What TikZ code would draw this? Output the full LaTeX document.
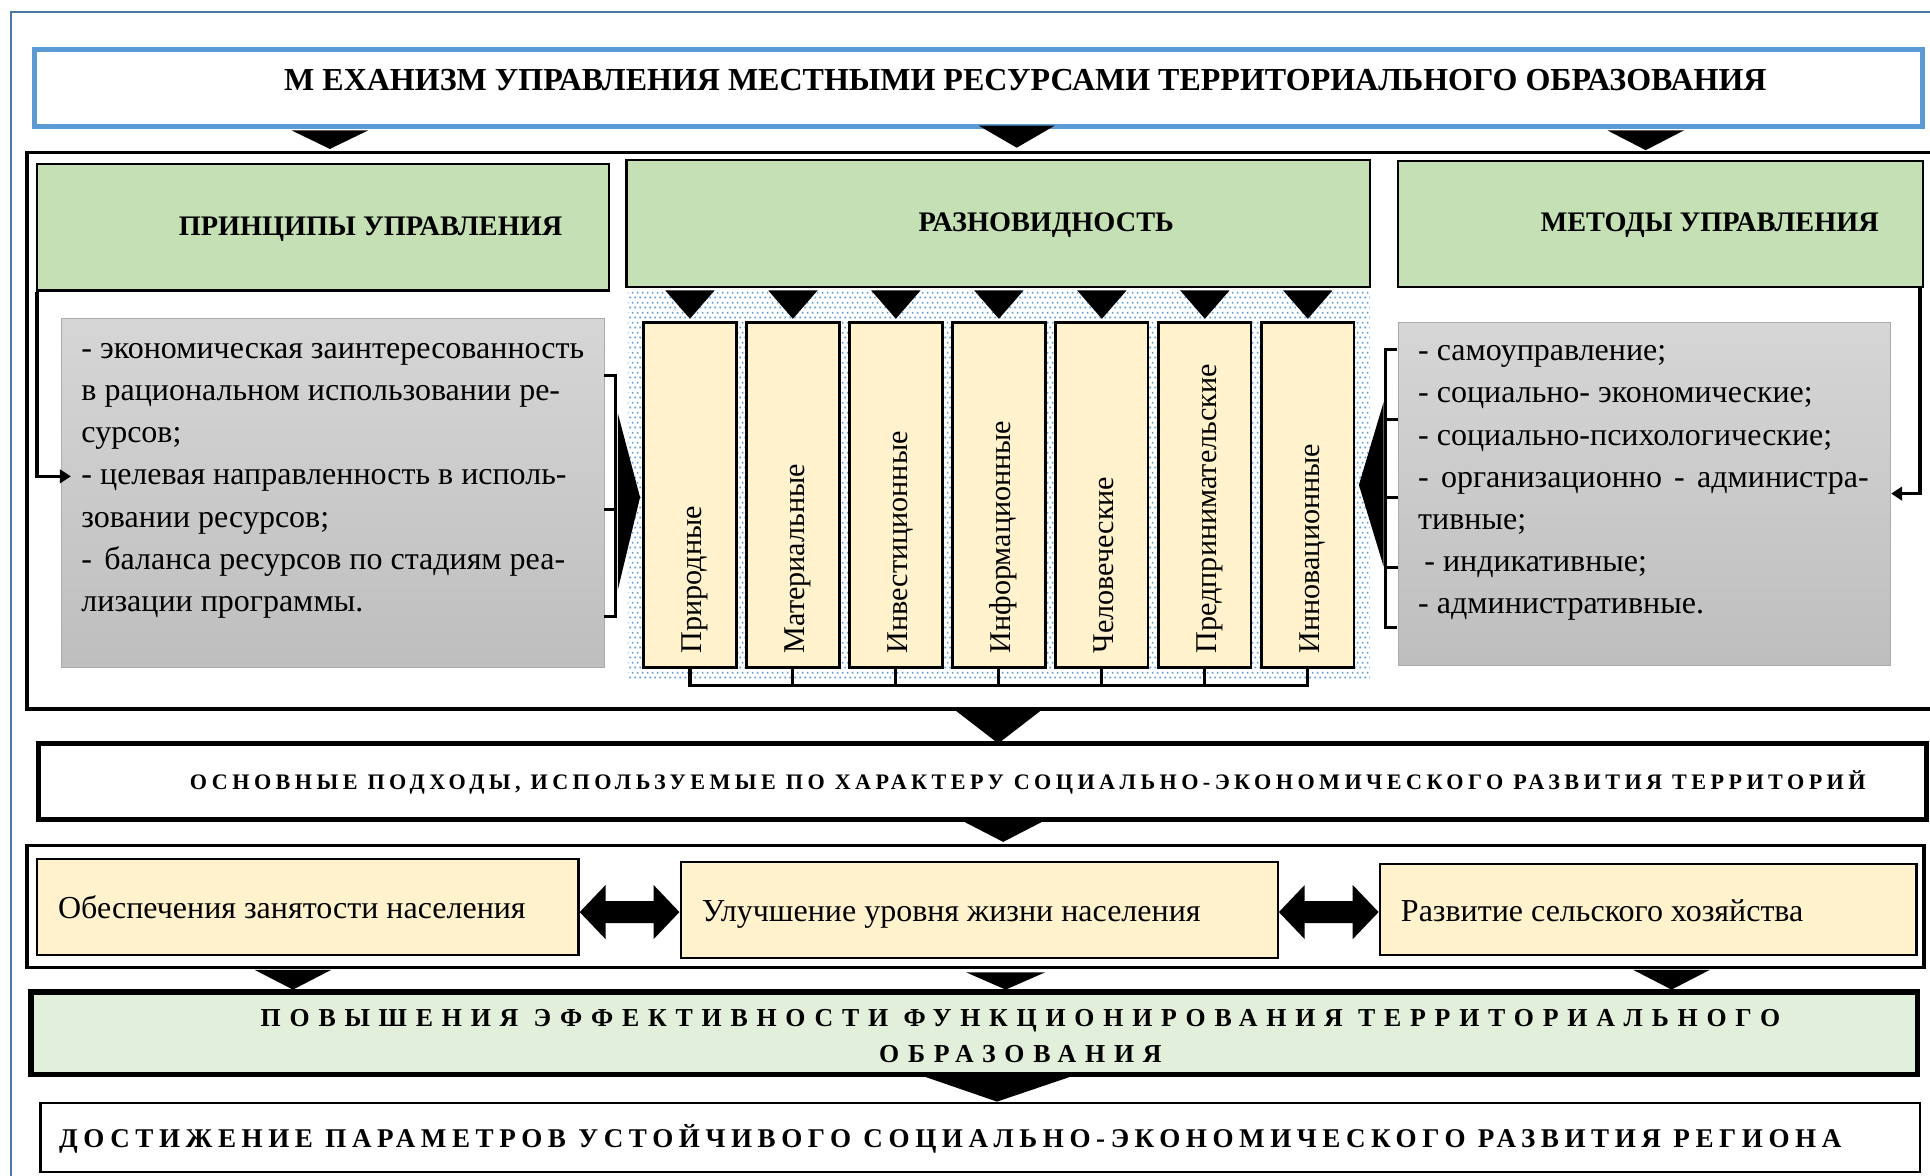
\documentclass[tikz,border=0pt]{standalone}
\usepackage{fontspec}
\setmainfont{Liberation Serif}
\newfontfamily\lsA[LetterSpace=20]{Liberation Serif}
\newfontfamily\lsB[LetterSpace=34]{Liberation Serif}
\newfontfamily\lsC[LetterSpace=20.6]{Liberation Serif}
\usetikzlibrary{patterns,arrows.meta,calc}
\pgfdeclarepatternformonly{bluedots}{\pgfpointorigin}{\pgfpoint{4.3pt}{8.4pt}}{\pgfpoint{4.3pt}{8.4pt}}{%
  \pgfpathrectangle{\pgfpoint{0.4pt}{1.4pt}}{\pgfpoint{1.5pt}{1.5pt}}%
  \pgfpathrectangle{\pgfpoint{2.55pt}{5.6pt}}{\pgfpoint{1.5pt}{1.5pt}}%
  \pgfusepath{fill}}
\definecolor{hdrgreen}{HTML}{C5E0B4}
\definecolor{lightgreen}{HTML}{E2EFDA}
\definecolor{cream}{HTML}{FFF2CC}
\definecolor{titleblue}{HTML}{5B9BD5}
\definecolor{frameblue}{HTML}{4A77A8}
\definecolor{grayA}{HTML}{D6D6D6}
\definecolor{grayB}{HTML}{BEBEBE}
\definecolor{grayC}{HTML}{ABABAB}
\definecolor{dotblue}{HTML}{5B9BD5}
\newcommand\mybox[7]{\node[#2, minimum width={(#5)-(#3)}, minimum height={(#6)-(#4)}, inner sep=0pt] (#1) at ({((#3)+(#5))/2},{((#4)+(#6))/2}) {#7};}
\newcommand\dtri[4]{\fill[black] ({#1-#4},#2) -- ({#1+#4},#2) -- (#1,#3) -- cycle;}
\tikzset{
  titlebox/.style={draw=titleblue, line width=4pt, fill=white},
  framebox/.style={draw=black, line width=3pt},
  hdrbox/.style={draw=black, line width=1.8pt, fill=hdrgreen},
  graybox/.style={top color=grayA, bottom color=grayB, draw=grayC, line width=0.8pt},
  vbox/.style={draw=black, line width=2.4pt, fill=cream},
  ybox/.style={draw=black, line width=1.8pt, fill=cream},
  thickbox/.style={draw=black, line width=4pt, fill=white},
  effbox/.style={draw=black, line width=4.5pt, fill=lightgreen},
  finalbox/.style={draw=black, line width=2pt, fill=white},
  dotarea/.style={pattern=bluedots, pattern color=dotblue},
  body/.style={font=\fontsize{26}{30}\selectfont, inner sep=0pt},
  vtext/.style={font=\fontsize{24.5}{28}\selectfont, inner sep=0pt},
  hdrtext/.style={font=\fontsize{23}{26}\selectfont\bfseries, inner sep=0pt},
  conn/.style={line width=2.6pt, draw=black},
}
\begin{document}
\begin{tikzpicture}[x=1pt,y=-1pt]
\useasboundingbox (0,0) rectangle (1568,955);
% outer thin blue frame
\draw[frameblue, line width=1.5pt] (9,970) -- (9,10) -- (1580,10);

% title
\mybox{title}{titlebox}{28}{40}{1562}{103}{}
\node[font=\fontsize{26}{30}\selectfont\bfseries, inner sep=0pt] (titletext) at (833,65) {М ЕХАНИЗМ УПРАВЛЕНИЯ МЕСТНЫМИ РЕСУРСАМИ ТЕРРИТОРИАЛЬНОГО ОБРАЗОВАНИЯ};
\dtri{268}{106}{121}{31}
\dtri{826}{102}{120}{31}
\dtri{1337}{106}{122}{31}

% frame 1
\mybox{frameA}{framebox}{22}{124}{1575}{576}{}
\mybox{hprin}{hdrbox}{30}{133}{495}{236}{}
\node[hdrtext] (hprintext) at (301,186) {ПРИНЦИПЫ УПРАВЛЕНИЯ};
\mybox{hraz}{hdrbox}{509}{130}{1113}{233}{}
\node[hdrtext] (hraztext) at (850,183) {РАЗНОВИДНОСТЬ};
\mybox{hmet}{hdrbox}{1136}{131}{1562}{233}{}
\node[hdrtext] (hmettext) at (1389,183) {МЕТОДЫ УПРАВЛЕНИЯ};

% dotted area
\mybox{dots}{dotarea}{510}{235}{1113}{551}{}

% gray boxes
\mybox{lgray}{graybox}{50}{259}{491}{542}{}
\mybox{rgray}{graybox}{1136}{262}{1536}{541}{}

\foreach \t [count=\i] in {{- экономическая заинтересованность},{в рациональном использовании ре-},{сурсов;},{- целевая направленность в исполь-},{зовании ресурсов;},{-\hspace{10pt}баланса ресурсов по стадиям реа-},{лизации программы.}}
  \node[body, anchor=base west] (lt\i) at (66,{291+(\i-1)*34.3}) {\t};

\foreach \t [count=\i] in {{- самоуправление;},{- социально- экономические;},{- социально-психологические;},{\makebox[366pt][s]{- организационно - администра-}},{тивные;},{\hspace{5pt}- индикативные;},{- административные.}}
  \node[body, anchor=base west] (rt\i) at (1152,{293+(\i-1)*34.3}) {\t};

% connectors from headers into gray boxes
\coordinate (la) at (31,387);
\coordinate (ra) at (1559,401);
\draw[conn, -{Triangle[length=9pt,width=11pt]}] (hprin.south west) ++(1,0) |- ($(lgray.west |- la)+(8,0)$);
\draw[conn, -{Triangle[length=9pt,width=11pt]}] (hmet.south east) ++(-3,0) |- (rgray.east |- ra);

% left bracket and spike
\draw[conn, line width=2.4pt] (491,305) -- (500,305) -- (500,501) -- (491,501);
\draw[conn, line width=2.4pt] (491,414) -- (500,414);
\fill[black] (502,336) -- (520,404) -- (502,479) -- cycle;
% right bracket and spike
\draw[conn, line width=2.4pt] (1135,284) -- (1126,284) -- (1126,510) -- (1135,510);
\foreach \yy in {341,404,461} \draw[conn, line width=2.4pt] (1126,\yy) -- (1136,\yy);
\fill[black] (1124,327) -- (1104,394) -- (1124,460) -- cycle;

% vertical boxes
\foreach \t [count=\i] in {Природные,Материальные,Инвестиционные,Информационные,Человеческие,Предпринимательские,Инновационные}{
  \pgfmathsetmacro\cx{560.5+(\i-1)*83.67}
  \mybox{v\i}{vbox}{\cx-37.5}{262}{\cx+37.5}{542}{}
  \node[vtext, rotate=90, anchor=base west] (vt\i) at (\cx+9.5,531) {\t};
  \dtri{\cx}{236}{259}{20}
  \draw[conn] (v\i.south) -- ++(0,14);
}
\draw[conn] ($(v1.south)+(-1.3,14)$) -- ($(v7.south)+(1.3,14)$);

% arrow to approaches
\dtri{811}{577}{604}{35}
\mybox{appr}{thickbox}{31}{604}{1565}{666}{}
\node[font=\fontsize{18}{20}\selectfont\bfseries\lsA, inner sep=0pt] (apprtext) at (835,636) {ОСНОВНЫЕ ПОДХОДЫ, ИСПОЛЬЗУЕМЫЕ ПО ХАРАКТЕРУ СОЦИАЛЬНО-ЭКОНОМИЧЕСКОГО РАЗВИТИЯ ТЕРРИТОРИЙ};
\dtri{815}{668}{684}{31}

% frame 2
\mybox{frameB}{framebox}{22}{687}{1563}{786}{}
\mybox{y1}{ybox}{30}{698}{470}{776}{}
\mybox{y2}{ybox}{553}{700}{1038}{778}{}
\mybox{y3}{ybox}{1121}{702}{1557}{776}{}
\node[body, anchor=base west] (y1t) at (47,746) {Обеспечения занятости населения};
\node[body, anchor=base west] (y2t) at (570,749) {Улучшение уровня жизни населения};
\node[body, anchor=base west] (y3t) at (1138,749) {Развитие сельского хозяйства};
% double arrows
\foreach \a/\b in {470/553,1038/1121}{
  \fill[black] (\a+1,741) -- (\a+22,719) -- (\a+22,732) -- (\b-22,732) -- (\b-22,719) -- (\b-1,741) -- (\b-22,763) -- (\b-22,750) -- (\a+22,750) -- (\a+22,763) -- cycle;
}
\dtri{238}{788}{804}{31}
\dtri{817}{790}{804}{32}
\dtri{1358}{788}{804}{31}

% efficiency box
\mybox{eff}{effbox}{25}{806}{1558}{873}{}
\node[font=\fontsize{21}{26}\selectfont\bfseries\lsB, inner sep=0pt] (efft1) at (829,829) {ПОВЫШЕНИЯ ЭФФЕКТИВНОСТИ ФУНКЦИОНИРОВАНИЯ ТЕРРИТОРИАЛЬНОГО};
\node[font=\fontsize{21}{26}\selectfont\bfseries\lsB, inner sep=0pt] (efft2) at (829,856) {ОБРАЗОВАНИЯ};
\fill[black] (752,875) -- (869,875) -- (810,895) -- cycle;

% final box
\mybox{fin}{finalbox}{33}{896}{1560}{952}{}
\node[font=\fontsize{22}{26}\selectfont\bfseries\lsC, inner sep=0pt] (fintext) at (772,925) {ДОСТИЖЕНИЕ ПАРАМЕТРОВ УСТОЙЧИВОГО СОЦИАЛЬНО-ЭКОНОМИЧЕСКОГО РАЗВИТИЯ РЕГИОНА};
\end{tikzpicture}
\end{document}
